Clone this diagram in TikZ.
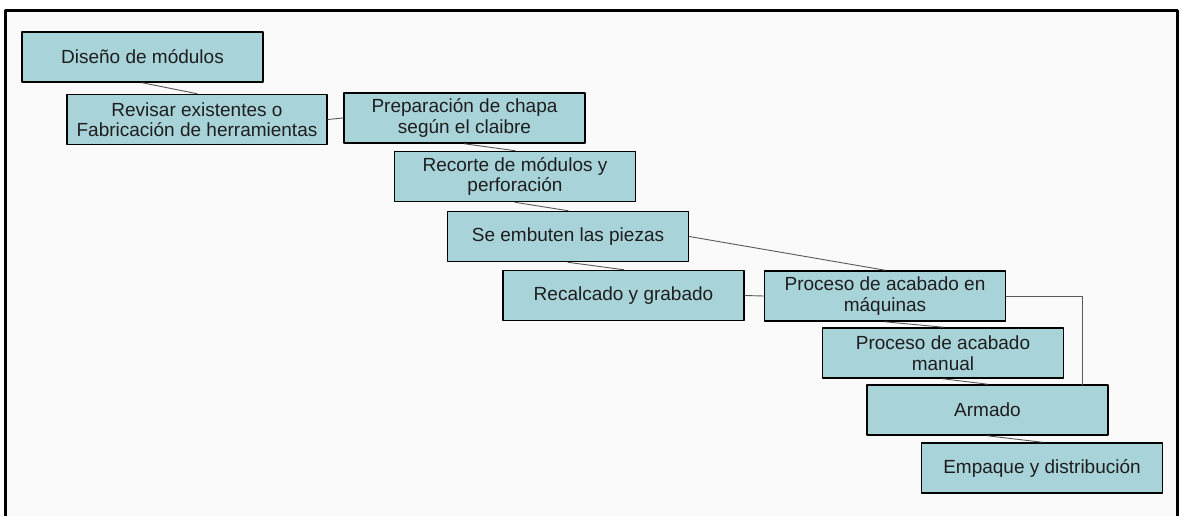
\documentclass[tikz,border=0pt]{standalone}
\usepackage{fontspec}
\setmainfont{Liberation Sans}
\usepackage{xcolor}
\usetikzlibrary{arrows.meta}
\definecolor{cajaazul}{HTML}{A8D3D9}
\definecolor{textogris}{HTML}{1E1E1E}
\tikzset{
  every picture/.style={line join=round, line cap=round, >=Stealth},
  etapa/.style={draw=black, line width=1.6pt, fill=cajaazul, text=textogris, align=center,
    minimum width=241pt, minimum height=50pt, inner sep=0pt,
    font=\fontsize{19}{20.5}\selectfont},
  enlace/.style={draw=black!65, line width=0.9pt},
}

\begin{document}
\begin{tikzpicture}[x=1pt,y=-1pt]
\useasboundingbox (0,0) rectangle (1181,516);
\draw[line width=3pt, fill=white!98!black](5.5,10.5) rectangle (1177.5,540);
\node[etapa] (b1) at (142.5,57) {Diseño de módulos};
\node[etapa, minimum width=260pt] (b2) at (197,119.5) {Revisar existentes o\\Fabricación de herramientas};
\node[etapa] (b3) at (464.5,118) {Preparación de chapa\\según el claibre};
\node[etapa] (b4) at (515,176.5) {Recorte de módulos y\\perforación};
\node[etapa] (b5) at (568,236.5) {Se embuten las piezas};
\node[etapa] (b6) at (623.5,295.5) {Recalcado y grabado};
\node[etapa] (b7) at (885,296) {Proceso de acabado en\\máquinas};
\node[etapa] (b8) at (943,353) {Proceso de acabado\\manual};
\node[etapa] (b9) at (987.5,410) {Armado};
\node[etapa] (b10) at (1042,468) {Empaque y distribución};
\coordinate (b9r) at (1082,385);
\draw[enlace](b1.south)--(b2.north);
\draw[enlace](b2.east)--(b3.west);
\draw[enlace](b3.south)--(b4.north);
\draw[enlace](b4.south)--(b5.north);
\draw[enlace](b5.south)--(b6.north);
\draw[enlace](b5.east)--(b7.north);
\draw[enlace](b6.east)--(b7.west);
\draw[enlace](b7.south)--(b8.north);
\draw[enlace](b7.east)-|(b9r);
\draw[enlace](b8.south)--(b9.north);
\draw[enlace](b9.south)--(b10.north);
\end{tikzpicture}
\end{document}
